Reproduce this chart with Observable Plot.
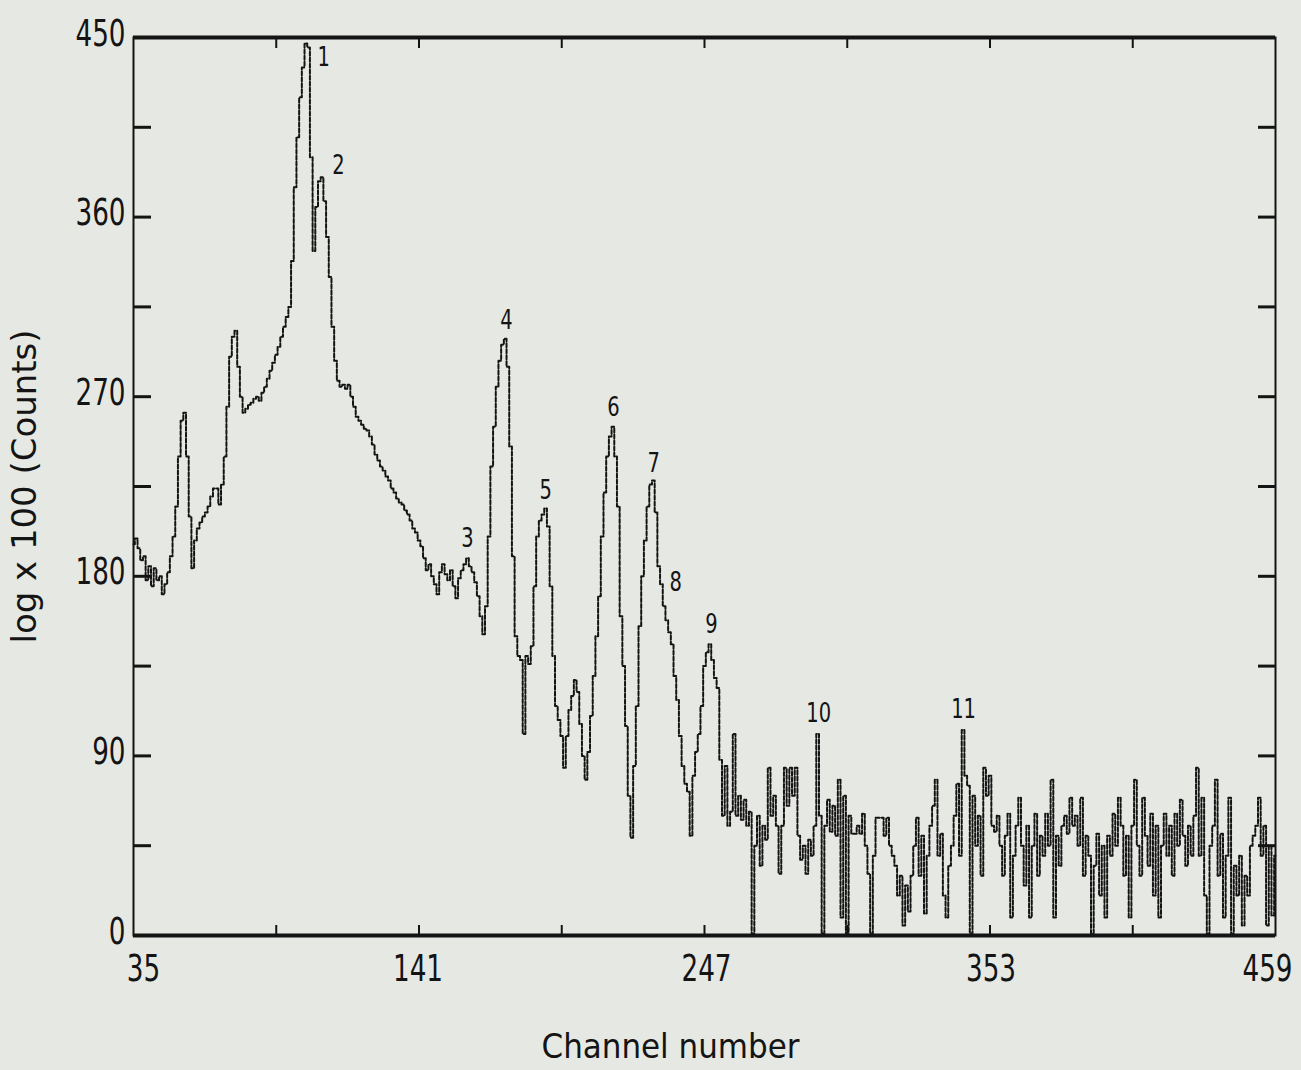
<!DOCTYPE html>
<html>
<head>
<meta charset="utf-8">
<script src="https://cdn.jsdelivr.net/npm/d3@7"></script>
<script src="https://cdn.jsdelivr.net/npm/@observablehq/plot@0.6"></script>
<style>
  html, body { margin: 0; padding: 0; background: #e6e8e3; }
  #chart { width: 1301px; height: 1070px; }
</style>
</head>
<body>
<div id="chart"></div>
<script>
// ---- data ----
const firstChannel = 35;
const lastChannel = 459;
const counts = [
  // 35-54
  196,199,194,188,190,178,185,175,184,178,180,171,176,182,190,200,215,240,258,262,
  // 55-74
  240,210,184,198,204,207,210,212,215,220,224,224,216,226,240,265,290,300,303,285,
  // 75-94
  270,262,264,266,267,269,270,268,272,275,279,283,287,291,295,300,305,310,315,338,
  // 95-114
  375,400,420,435,447,445,390,343,365,378,380,368,350,330,305,288,278,275,276,274,
  // 115-134
  276,270,265,260,258,256,254,253,250,246,241,238,235,233,230,228,224,222,219,217,
  // 135-154
  216,213,211,208,204,202,198,195,189,183,186,180,176,171,182,186,181,178,183,175,
  // 155-174
  169,179,183,186,189,185,182,177,170,160,151,165,200,235,255,275,288,296,299,285,
  // 175-194
  245,190,150,140,138,101,140,136,145,175,200,208,211,214,205,175,140,115,108,100,
  // 195-214
  84,100,113,120,128,122,106,90,78,92,110,130,150,170,200,222,240,250,255,240,
  // 215-234
  215,160,135,105,70,49,85,115,155,180,198,215,226,228,212,185,176,165,158,152,
  // 235-254
  146,130,118,100,85,76,72,50,80,92,101,115,135,142,146,138,129,124,88,60,
  // 255-274
  85,55,62,101,60,70,58,68,55,62,1,45,60,35,55,48,84,60,70,55,
  // 275-294
  31,55,84,65,84,70,84,50,38,45,31,48,40,55,101,60,1,55,68,52,
  // 295-314
  65,50,78,9,70,1,60,51,51,55,51,61,45,31,1,40,59,59,59,50,
  // 315-334
  59,45,40,35,20,30,5,25,12,30,45,59,30,50,11,40,55,65,78,40,
  // 335-354
  51,20,9,35,45,60,76,40,103,80,75,1,70,45,60,30,84,70,80,55,
  // 355-374
  52,60,45,30,50,61,9,40,55,69,45,25,55,9,45,61,30,50,40,61,
  // 375-394
  45,78,9,50,35,55,60,51,69,55,60,45,69,30,50,40,1,35,51,20,
  // 395-414
  45,9,50,40,61,45,69,55,30,50,9,55,78,45,30,69,50,35,61,20,
  // 415-434
  55,9,45,61,40,55,30,61,45,68,50,35,55,40,60,84,40,69,20,1,
  // 435-454
  45,55,78,30,51,9,40,69,1,35,20,40,5,30,20,45,50,55,69,40,
  // 455-459
  55,5,45,10,40
];
const channels = d3.range(firstChannel, lastChannel + 1);

const peakNames = ["1","2","3","4","5","6","7","8","9","10","11"];
const peakChannels = [105.6, 111.1, 159, 173.5, 188, 213.2, 228.1, 236.3, 249.6, 289.4, 343.2];
const peakHeights = [440, 386, 199, 308, 223, 264.5, 236.5, 177, 156, 111, 113];

const yLabelTicks = [0, 90, 180, 270, 360, 450];
const yMarkTicks = [45, 90, 135, 180, 225, 270, 315, 360, 405];
const xLabelTicks = [35, 141, 247, 353, 459];
const xMarkTicks = [88, 141, 194, 247, 300, 353, 406];

const xTitle = "Channel number";
const yTitle = "log x 100 (Counts)";

// ---- tables built from the arrays ----
const spectrum = channels.map((c, i) => ({channel: c, value: counts[i]}));
const peaks = peakNames.map((n, i) => ({name: n, channel: peakChannels[i], value: peakHeights[i]}));

const ink = "#141414";
const font = "'DejaVu Sans', 'Liberation Sans', sans-serif";
const blank = () => "";

const chart = Plot.plot({
  width: 1301,
  height: 1070,
  marginLeft: 133,
  marginRight: 26,
  marginTop: 37,
  marginBottom: 135,
  style: {background: "#e6e8e3", color: ink, fontFamily: font},
  x: {domain: [firstChannel, lastChannel]},
  y: {domain: [0, 450]},
  marks: [
    // inward tick marks on all four sides
    Plot.axisY({ticks: yMarkTicks, tickSize: -18, tickFormat: blank, strokeWidth: 3, label: null}),
    Plot.axisY({anchor: "right", ticks: yMarkTicks, tickSize: -18, tickFormat: blank, strokeWidth: 3, label: null}),
    Plot.axisX({ticks: xMarkTicks, tickSize: -10, tickFormat: blank, strokeWidth: 2, label: null}),
    Plot.axisX({anchor: "top", ticks: xMarkTicks, tickSize: -10, tickFormat: blank, strokeWidth: 2, label: null}),
    // tick labels
    Plot.axisY({ticks: yLabelTicks, tickSize: 0, tickPadding: 8, dy: -4, fontSize: 38, label: null}),
    Plot.axisX({ticks: xLabelTicks, tickSize: 0, tickPadding: 19, fontSize: 38, label: null}),
    // frame
    Plot.frame({stroke: ink, strokeWidth: 2}),
    Plot.ruleY([0, 450], {stroke: ink, strokeWidth: 4}),
    // spectrum
    Plot.line(spectrum, {x: "channel", y: "value", curve: "step", stroke: ink, strokeWidth: 2, strokeDasharray: "4,2"}),
    // peak numbers
    Plot.text(peaks, {x: "channel", y: "value", text: "name", fontSize: 26, fill: ink}),
    // axis titles
    Plot.text([xTitle], {frameAnchor: "bottom", textAnchor: "middle", dx: -34, dy: 122, fontSize: 33, fill: ink}),
    Plot.text([yTitle], {frameAnchor: "left", textAnchor: "middle", dx: -108, rotate: -90, fontSize: 33, fill: ink})
  ]
});
document.getElementById("chart").appendChild(chart);

// narrow the lettering to the plotter's condensed look
function squeeze(selector, factor) {
  d3.select(chart).selectAll(selector).each(function () {
    const w = this.getComputedTextLength();
    if (w > 0) {
      this.setAttribute("textLength", w * factor);
      this.setAttribute("lengthAdjust", "spacingAndGlyphs");
    }
  });
}
squeeze('g[aria-label="x-axis tick label"] text', 0.69);
squeeze('g[aria-label="y-axis tick label"] text', 0.69);
// small nudges of the end labels, as on the plotter sheet
const xLabelNudge = {"35": 10, "141": -1, "247": 2, "353": 1, "459": -8};
d3.select(chart).selectAll('g[aria-label="x-axis tick label"] text').each(function () {
  const n = xLabelNudge[this.textContent];
  if (n) this.setAttribute("dx", n);
});
d3.select(chart).selectAll('g[aria-label="text"] text').each(function () {
  const t = this.textContent;
  if (t === xTitle) { this.setAttribute("textLength", 258); this.setAttribute("lengthAdjust", "spacingAndGlyphs"); }
  else if (t === yTitle) { this.setAttribute("textLength", 314); this.setAttribute("lengthAdjust", "spacingAndGlyphs"); }
  else {
    const w = this.getComputedTextLength();
    this.setAttribute("textLength", w * 0.75);
    this.setAttribute("lengthAdjust", "spacingAndGlyphs");
  }
});
</script>
</body>
</html>
